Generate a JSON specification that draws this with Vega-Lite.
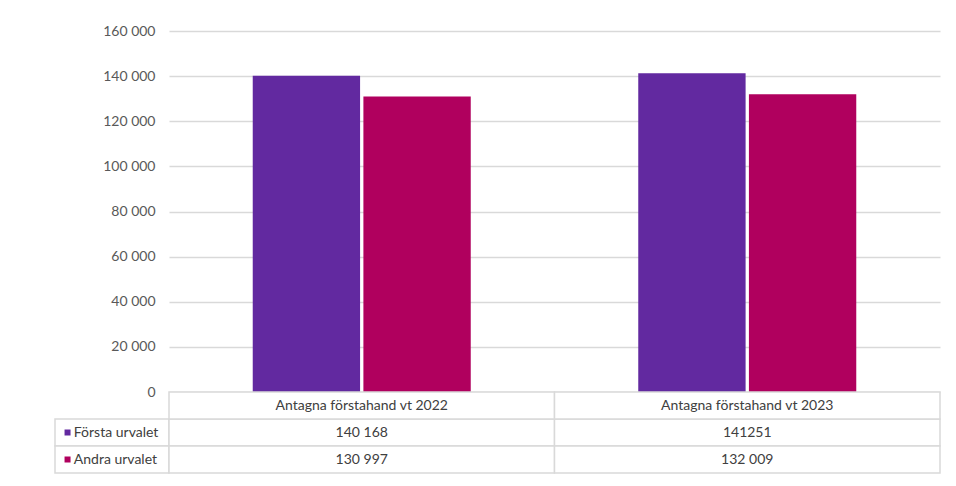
{
  "$schema": "https://vega.github.io/schema/vega-lite/v6.json",
  "padding": {"left": 54, "top": 24, "right": 0, "bottom": 0},
  "background": "white",
  "config": {
    "view": {"stroke": null},
    "font": "Lato",
    "locale": {"number": {"decimal": ",", "thousands": " ", "grouping": [3], "currency": ["", " kr"]}}
  },
  "datasets": {
    "d": [
      {"kategori": "Antagna förstahand vt 2022", "serie": "Första urvalet", "antal": 140168, "etikett": "140 168"},
      {"kategori": "Antagna förstahand vt 2022", "serie": "Andra urvalet", "antal": 130997, "etikett": "130 997"},
      {"kategori": "Antagna förstahand vt 2023", "serie": "Första urvalet", "antal": 141251, "etikett": "141251"},
      {"kategori": "Antagna förstahand vt 2023", "serie": "Andra urvalet", "antal": 132009, "etikett": "132 009"}
    ]
  },
  "columns": 2,
  "spacing": 0,
  "bounds": "flush",
  "concat": [
    {
      "width": 114,
      "height": 361,
      "data": {"values": []},
      "mark": "text"
    },
    {
      "width": 771,
      "height": 361,
      "data": {"name": "d"},
      "mark": {"type": "bar"},
      "encoding": {
        "x": {"field": "kategori", "type": "nominal", "sort": null, "axis": null, "scale": {"paddingInner": 0.4345, "paddingOuter": 0.2172}},
        "xOffset": {"field": "serie", "type": "nominal", "sort": ["Första urvalet", "Andra urvalet"], "scale": {"paddingInner": 0.03}},
        "y": {
          "field": "antal", "type": "quantitative",
          "scale": {"domain": [0, 160000]},
          "axis": {
            "title": null,
            "values": [0, 20000, 40000, 60000, 80000, 100000, 120000, 140000, 160000],
            "format": ",d",
            "domain": false,
            "ticks": false,
            "labelPadding": 14,
            "labelFontSize": 14,
            "labelColor": "#595959",
            "gridColor": "#d9d9d9",
            "gridWidth": 1.3
          }
        },
        "color": {"field": "serie", "type": "nominal", "scale": {"domain": ["Första urvalet", "Andra urvalet"], "range": ["#6229A0", "#B0005E"]}, "legend": null}
      }
    },
    {
      "width": 114,
      "height": 81,
      "data": {"name": "d"},
      "transform": [{"filter": "datum.kategori === 'Antagna förstahand vt 2022'"}],
      "encoding": {
        "y": {"field": "serie", "type": "nominal", "scale": {"domain": ["Rubrik", "Första urvalet", "Andra urvalet"], "paddingInner": 0, "paddingOuter": 0}, "axis": null}
      },
      "layer": [
        {
          "mark": {"type": "rect", "fill": "white", "stroke": "#d9d9d9", "strokeWidth": 1.5},
          "encoding": {"x": {"datum": "etikett", "type": "nominal", "scale": {"paddingInner": 0, "paddingOuter": 0}, "axis": null}}
        },
        {
          "mark": {"type": "square", "size": 36, "opacity": 1, "filled": true},
          "encoding": {
            "x": {"datum": "etikett", "type": "nominal", "bandPosition": 0.11},
            "color": {"field": "serie", "type": "nominal", "scale": {"domain": ["Första urvalet", "Andra urvalet"], "range": ["#6229A0", "#B0005E"]}, "legend": null}
          }
        },
        {
          "mark": {"type": "text", "align": "left", "fontSize": 14, "color": "#404040"},
          "encoding": {
            "x": {"datum": "etikett", "type": "nominal", "bandPosition": 0.165},
            "text": {"field": "serie"}
          }
        }
      ]
    },
    {
      "width": 771,
      "height": 81,
      "data": {"name": "d"},
      "encoding": {
        "x": {"field": "kategori", "type": "nominal", "sort": null, "scale": {"paddingInner": 0, "paddingOuter": 0}, "axis": null}
      },
      "layer": [
        {
          "mark": {"type": "rect", "fill": "white", "stroke": "#d9d9d9", "strokeWidth": 1.5},
          "encoding": {"y": {"field": "serie", "type": "nominal", "scale": {"domain": ["Rubrik", "Första urvalet", "Andra urvalet"], "paddingInner": 0, "paddingOuter": 0}, "axis": null}}
        },
        {
          "mark": {"type": "text", "fontSize": 14, "color": "#404040"},
          "encoding": {"y": {"field": "serie", "type": "nominal"}, "text": {"field": "etikett"}}
        },
        {
          "transform": [{"filter": "datum.serie === 'Första urvalet'"}],
          "mark": {"type": "rect", "fill": "white", "stroke": "#d9d9d9", "strokeWidth": 1.5},
          "encoding": {"y": {"datum": "Rubrik", "type": "nominal"}}
        },
        {
          "transform": [{"filter": "datum.serie === 'Första urvalet'"}],
          "mark": {"type": "text", "fontSize": 14, "color": "#404040"},
          "encoding": {"y": {"datum": "Rubrik", "type": "nominal"}, "text": {"field": "kategori"}}
        }
      ]
    }
  ]
}
